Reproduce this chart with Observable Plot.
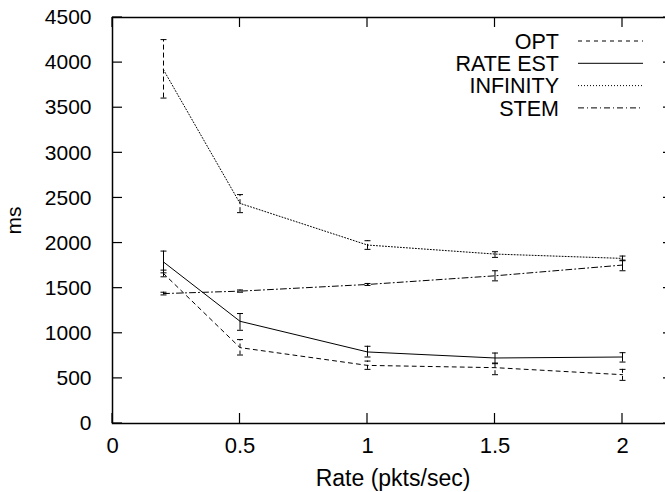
<!DOCTYPE html>
<html>
<head>
<meta charset="utf-8">
<script src="https://cdn.jsdelivr.net/npm/d3@7"></script>
<script src="https://cdn.jsdelivr.net/npm/@observablehq/plot@0.6"></script>
<style>
  body { margin: 0; background: white; }
  #wrap { position: relative; width: 665px; height: 492px; overflow: hidden; }
  #legend { position: absolute; left: 0; top: 0; pointer-events: none; }
</style>
</head>
<body>
<div id="wrap"></div>
<script>
// ---- data ----
const rates = [0.2, 0.5, 1, 1.5, 2];
const seriesNames = ["OPT", "RATE EST", "INFINITY", "STEM"];

const optMean  = [1663, 841, 644, 619, 541];
const optLow   = [1626, 759, 600, 541, 478];
const optHigh  = [1700, 930, 692, 670, 600];

const rateMean = [1790, 1133, 793, 726, 737];
const rateLow  = [1670, 1033, 737, 663, 681];
const rateHigh = [1911, 1219, 856, 781, 785];

const infMean  = [3920, 2440, 1978, 1878, 1830];
const infLow   = [3607, 2337, 1930, 1841, 1804];
const infHigh  = [4255, 2537, 2026, 1904, 1856];

const stemMean = [1440, 1467, 1541, 1637, 1756];
const stemLow  = [1425, 1455, 1530, 1581, 1693];
const stemHigh = [1455, 1480, 1552, 1693, 1811];

const xDomain = [0, 2.2];
const yDomain = [0, 4500];
const xTicks = [0, 0.5, 1, 1.5, 2];
const yTicks = [0, 500, 1000, 1500, 2000, 2500, 3000, 3500, 4000, 4500];

// ---- layout / styles ----
const W = 665, H = 492, ML = 112, MR = -8, MT = 17, MB = 69, TICK = 10;
const lineDash = {"OPT": "4,4", "RATE EST": null, "INFINITY": "1,2", "STEM": "6,3,1,3"};
const barDash  = {"OPT": "4,3", "RATE EST": null, "INFINITY": "5,3", "STEM": null};

const seriesData = {
  "OPT": [optMean, optLow, optHigh],
  "RATE EST": [rateMean, rateLow, rateHigh],
  "INFINITY": [infMean, infLow, infHigh],
  "STEM": [stemMean, stemLow, stemHigh]
};

const rows = seriesNames.map(name => {
  const [m, lo, hi] = seriesData[name];
  return rates.map((r, i) => ({series: name, rate: r, mean: m[i], lo: lo[i], hi: hi[i]}));
});

const cap = {draw(c) { c.moveTo(-3, 0); c.lineTo(3, 0); }};

const FONT = "'Liberation Sans', Arial, Helvetica, sans-serif";

const marks = [];
rows.forEach((data, k) => {
  const name = seriesNames[k];
  marks.push(Plot.line(data, {x: "rate", y: "mean", stroke: "black", strokeWidth: 1, strokeDasharray: lineDash[name]}));
  marks.push(Plot.ruleX(data, {x: "rate", y1: "lo", y2: "hi", stroke: "black", strokeWidth: 1, strokeDasharray: barDash[name]}));
  marks.push(Plot.dot(data, {x: "rate", y: "lo", symbol: cap, stroke: "black", fill: "none", strokeWidth: 1}));
  marks.push(Plot.dot(data, {x: "rate", y: "hi", symbol: cap, stroke: "black", fill: "none", strokeWidth: 1}));
});

const chart = Plot.plot({
  width: W,
  height: H,
  marginLeft: ML,
  marginRight: MR,
  marginTop: MT,
  marginBottom: MB,
  style: {fontFamily: FONT, fontSize: "21px", background: "white", color: "black"},
  x: {domain: xDomain},
  y: {domain: yDomain},
  marks: [
    ...marks,
    Plot.axisX({anchor: "bottom", ticks: xTicks, tickSize: 0, tickPadding: 14, tickFormat: d => String(d),
                fontSize: 22, label: null}),
    Plot.axisX({anchor: "bottom", ticks: [], tickSize: 0, label: "Rate (pkts/sec)", labelAnchor: "center",
                labelArrow: "none", labelOffset: 62, fontSize: 23}),
    Plot.axisY({anchor: "left", ticks: yTicks, tickSize: 0, tickPadding: 21, tickFormat: d => String(d),
                fontSize: 21, label: "ms", labelAnchor: "center", labelArrow: "none", labelOffset: 106}),
    Plot.frame({stroke: "black", strokeWidth: 1.5})
  ]
});

const wrap = document.getElementById("wrap");
wrap.appendChild(chart);

// ---- overlay: inward ticks (placed through the chart's own scales) and legend ----
const ns = "http://www.w3.org/2000/svg";
const leg = document.createElementNS(ns, "svg");
leg.setAttribute("id", "legend");
leg.setAttribute("width", W);
leg.setAttribute("height", H);

function addLine(x1, y1, x2, y2, dash, sw) {
  const l = document.createElementNS(ns, "line");
  l.setAttribute("x1", x1); l.setAttribute("x2", x2);
  l.setAttribute("y1", y1); l.setAttribute("y2", y2);
  l.setAttribute("stroke", "black");
  l.setAttribute("stroke-width", sw || 1);
  if (dash) l.setAttribute("stroke-dasharray", dash);
  leg.appendChild(l);
}

const sx = chart.scale("x"), sy = chart.scale("y");
const frameLeft = sx.apply(xDomain[0]), frameRight = sx.apply(xDomain[1]);
const frameBottom = sy.apply(yDomain[0]), frameTop = sy.apply(yDomain[1]);
xTicks.forEach(v => {
  const px = sx.apply(v);
  addLine(px, frameBottom, px, frameBottom - TICK, null, 1.2);
  addLine(px, frameTop, px, frameTop + TICK, null, 1.2);
});
yTicks.forEach(v => {
  const py = sy.apply(v);
  addLine(frameLeft, py, frameLeft + TICK, py, null, 1.2);
  addLine(frameRight, py, frameRight - TICK, py, null, 1.2);
});

seriesNames.forEach((name, i) => {
  const cy = 41 + i * 22.3;
  const t = document.createElementNS(ns, "text");
  t.setAttribute("x", 559);
  t.setAttribute("y", cy);
  t.setAttribute("dy", "0.36em");
  t.setAttribute("text-anchor", "end");
  t.setAttribute("font-family", FONT);
  t.setAttribute("font-size", "21.5px");
  t.textContent = name;
  leg.appendChild(t);
  addLine(578, cy, 643, cy, lineDash[name], 1);
});
wrap.appendChild(leg);
</script>
</body>
</html>
